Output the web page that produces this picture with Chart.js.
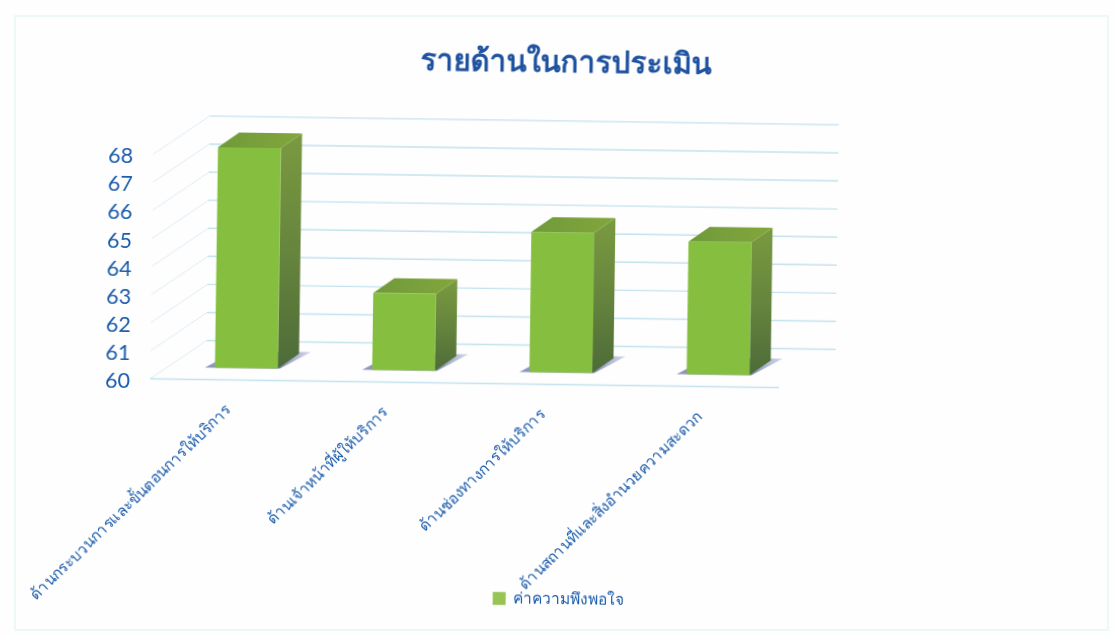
<!DOCTYPE html>
<html lang="th">
<head>
<meta charset="utf-8">
<title>รายด้านในการประเมิน</title>
<script src="https://cdn.jsdelivr.net/npm/chart.js@4"></script>
<style>
  html, body { margin: 0; padding: 0; width: 1115px; height: 634px; overflow: hidden; background: #fefefe; }
  #sheet { position: absolute; left: 0; top: 0; width: 1115px; height: 634px; transform: rotate(0.8deg); transform-origin: 50% 50%; }
  #frame { position: absolute; left: 14px; top: 15px; width: 1095px; height: 616px; border: 2px solid #edf8f8; box-sizing: border-box; }
  canvas { display: block; }
</style>
</head>
<body>
<div id="frame"></div>
<div id="sheet"><canvas id="chart" width="1115" height="634"></canvas></div>
<script>
const categories = [
  'ด้านกระบวนการและขั้นตอนการให้บริการ',
  'ด้านเจ้าหน้าที่ผู้ให้บริการ',
  'ด้านช่องทางการให้บริการ',
  'ด้านสถานที่และสิ่งอำนวยความสะดวก'
];
const satisfaction = [67.85, 62.74, 65.0, 64.73];
const seriesName = 'ค่าความพึงพอใจ';
const chartTitle = 'รายด้านในการประเมิน';

const FONT = '"Noto Sans", Lato, sans-serif';
const BLUE = '#1c5cab';
const WALL = { dx: 56, dy: -39 };   // depth of the floor and side walls
const BAR = { dx: 21, dy: -15 };    // depth of each column
const INSET = { dx: 17.5, dy: -12 }; // columns stand mid-way across the floor

function poly(ctx, pts, fill) {
  ctx.beginPath();
  pts.forEach((p, i) => i ? ctx.lineTo(p[0], p[1]) : ctx.moveTo(p[0], p[1]));
  ctx.closePath();
  ctx.fillStyle = fill;
  ctx.fill();
}

// Long slanted category labels run past the axis box, so its clip edge is
// moved down to the canvas bottom once the layout has settled
const longLabels = {
  id: 'longLabels',
  afterLayout(chart) {
    chart.scales.x.bottom = chart.height;
  }
};

// Floor, side wall and back wall rules, taken from the value scale's ticks
const wallGrid = {
  id: 'wallGrid',
  beforeDatasetsDraw(chart) {
    const { ctx, chartArea: a, scales: { y } } = chart;
    ctx.save();
    y.ticks.forEach(t => {
      const py = y.getPixelForValue(t.value);
      ctx.lineWidth = 1;
      ctx.strokeStyle = '#dcecf5';
      ctx.beginPath();
      ctx.moveTo(a.left, py);
      ctx.lineTo(a.left + WALL.dx, py + WALL.dy);
      ctx.stroke();
      ctx.lineWidth = 1.4;
      ctx.strokeStyle = '#c4e2ee';
      ctx.beginPath();
      ctx.moveTo(a.left + WALL.dx, py + WALL.dy);
      ctx.lineTo(a.right + WALL.dx, py + WALL.dy);
      ctx.stroke();
    });
    ctx.lineWidth = 1.4;
    ctx.strokeStyle = '#c4e2ee';
    ctx.beginPath();
    ctx.moveTo(a.left, a.bottom);
    ctx.lineTo(a.right, a.bottom);
    ctx.stroke();
    ctx.restore();
  }
};

// Extrudes each bar element: contact shadow, side and top faces, then the
// library's own bar is painted as the front face, shifted onto the floor
const column3d = {
  id: 'column3d',
  beforeDatasetDraw(chart, args) {
    const { ctx } = chart;
    ctx.save();
    ctx.translate(INSET.dx, INSET.dy);
    chart.getDatasetMeta(args.index).data.forEach(bar => {
      const L = bar.x - bar.width / 2, R = bar.x + bar.width / 2;
      const T = bar.y, B = bar.base;

      const shade = ctx.createLinearGradient(L - 10, 0, R + 33, 0);
      shade.addColorStop(0, '#8f97c0');
      shade.addColorStop(0.7, '#7f88b5');
      shade.addColorStop(1, 'rgba(170,178,214,0.5)');
      poly(ctx, [[L - 10, B], [R + 2, B], [R + 33, B - 17], [L + 21, B - 17]], shade);

      const side = ctx.createLinearGradient(0, T + BAR.dy, 0, B);
      side.addColorStop(0, '#7a9a40');
      side.addColorStop(0.5, '#66853d');
      side.addColorStop(1, '#4d6b38');
      poly(ctx, [[R, T], [R + BAR.dx, T + BAR.dy], [R + BAR.dx, B + BAR.dy], [R, B]], side);

      const top = ctx.createLinearGradient(L, 0, R + BAR.dx, 0);
      top.addColorStop(0, '#6f9a3a');
      top.addColorStop(1, '#83a63c');
      poly(ctx, [[L, T], [L + BAR.dx, T + BAR.dy], [R + BAR.dx, T + BAR.dy], [R, T]], top);
    });
  },
  afterDatasetDraw(chart) {
    chart.ctx.restore();
  }
};

function frontFace(c) {
  const bar = c.element;
  if (!bar || bar.y === undefined || bar.base === undefined) return '#86bf40';
  const g = c.chart.ctx.createLinearGradient(0, bar.y, 0, bar.base);
  g.addColorStop(0, '#89c33f');
  g.addColorStop(0.55, '#7cb943');
  g.addColorStop(1, '#8ab83e');
  return g;
}

new Chart(document.getElementById('chart'), {
  type: 'bar',
  data: {
    labels: categories,
    datasets: [{
      label: seriesName,
      data: satisfaction,
      base: 60,
      backgroundColor: frontFace,
      barPercentage: 0.4,
      categoryPercentage: 1,
      clip: false
    }]
  },
  plugins: [longLabels, wallGrid, column3d],
  options: {
    responsive: false,
    animation: false,
    layout: { padding: { left: 10, bottom: 17 } },
    plugins: {
      tooltip: { enabled: false },
      title: {
        display: true,
        text: chartTitle,
        color: '#1f52a0',
        font: { family: FONT, size: 29.5, weight: 'bold' },
        padding: { top: 46, bottom: 78.5 }
      },
      legend: {
        position: 'bottom',
        labels: {
          color: BLUE,
          font: { family: FONT, size: 15.5 },
          boxWidth: 13,
          boxHeight: 13,
          padding: 6,
          generateLabels() {
            return [{ text: seriesName, fillStyle: '#97c455', strokeStyle: '#97c455', lineWidth: 0, fontColor: BLUE }];
          }
        }
      }
    },
    scales: {
      x: {
        grid: { display: false },
        border: { display: false },
        afterFit(s) { s.height = 201; },
        ticks: {
          color: BLUE,
          font: { family: FONT, size: 15.2 },
          minRotation: 45,
          maxRotation: 45,
          padding: 13.5,
          autoSkip: false
        }
      },
      y: {
        min: 60,
        max: 68,
        afterFit(s) { s.width = 141; },
        grid: { display: false },
        border: { display: false },
        ticks: {
          stepSize: 1,
          autoSkip: false,
          color: BLUE,
          font: { family: 'Lato, sans-serif', size: 21.5 },
          padding: 12,
          labelOffset: 2.5
        }
      },
      margin: {
        type: 'linear',
        position: 'right',
        display: true,
        afterFit(s) { s.width = 335; },
        grid: { display: false },
        border: { display: false },
        ticks: { display: false }
      }
    }
  }
});
</script>
</body>
</html>
